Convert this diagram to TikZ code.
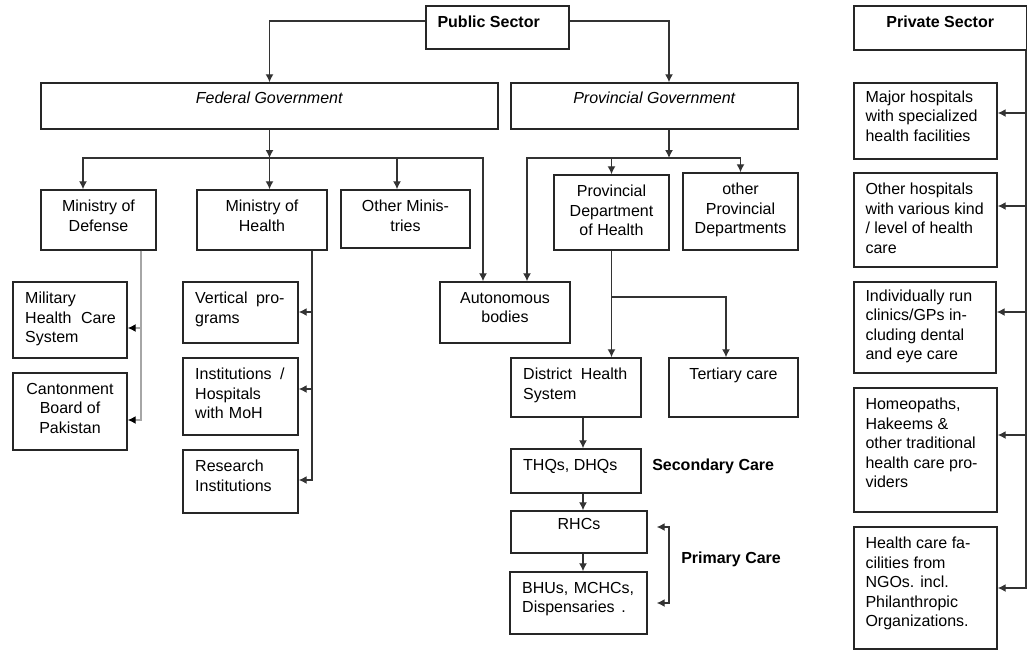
\documentclass[tikz,border=0pt]{standalone}
\usepackage{fontspec}
\setmainfont{Liberation Sans}
\usetikzlibrary{
  arrows.meta, % Latex arrow tips
  calc,        % coordinate offsets
  fit          % boxes from two corners
}
\tikzset{
  box/.style={
    draw=black!85,
    line width=1.1pt,
    inner sep=0pt
  },
  link/.style={
    -{Latex[length=6pt,width=6pt]},
    line width=1pt,
    draw=black!80
  },
  glink/.style={
    -{Latex[length=6pt,width=6pt,color=black]},
    line width=1pt,
    draw=black!35
  },
  ctxt/.style={
    anchor=north,
    align=center,
    inner xsep=0pt,
    inner ysep=8pt,
    font=\fontsize{12}{14.6}\selectfont
  },
  ltxt/.style={
    anchor=north west,
    align=left,
    inner xsep=9.5pt,
    inner ysep=8pt,
    font=\fontsize{12}{14.6}\selectfont
  },
  side/.style={
    anchor=west,
    inner sep=0pt,
    font=\fontsize{12}{14.6}\selectfont\bfseries
  }
}

\begin{document}
\begin{tikzpicture}[x=0.75pt, y=-0.75pt]
  \useasboundingbox (0,0) rectangle (1028,650);

  % ======================= top level =======================
  \node[box, fit={(426,6) (569,49)},
        label={[ltxt, inner xsep=9pt]north west:{\textbf{Public Sector}}}] (pub) {};
  \node[box, fit={(854,6) (1026.5,50)},
        label={[ctxt]north:{\textbf{Private Sector}}}] (priv) {};

  \node[box, fit={(41,83) (498,129)},
        label={[ctxt, inner ysep=7pt]north:{\textit{Federal Government}}}] (fed) {};
  \node[box, fit={(511,83) (798,129)},
        label={[ctxt, inner ysep=7pt]north:{\textit{Provincial Government}}}] (prov) {};

  % ======================= federal side =======================
  \node[box, fit={(41,190) (156,250)},
        label={[ctxt]north:{Ministry of\\Defense}}] (mod) {};
  \node[box, fit={(197,190) (327,250)},
        label={[ctxt]north:{Ministry of\\Health}}] (moh) {};
  \node[box, fit={(341,190) (470,248)},
        label={[ctxt]north:{Other Minis-\\tries}}] (othmin) {};

  \node[box, fit={(13,282) (127,358)},
        label={[ltxt, text width=68pt]north west:{Military\\Health\hfill Care\\System}}] (mil) {};
  \node[box, fit={(13,373) (127,450)},
        label={[ctxt]north:{Cantonment\\Board of\\Pakistan}}] (cant) {};

  \node[box, fit={(183,282) (298,343)},
        label={[ltxt, text width=67pt]north west:{Vertical\hfill pro-\\grams}}] (vert) {};
  \node[box, fit={(183,358) (298,435)},
        label={[ltxt, text width=67pt]north west:{Institutions\hfill /\\Hospitals\\with MoH}}] (inst) {};
  \node[box, fit={(183,450) (298,513)},
        label={[ltxt]north west:{Research\\Institutions}}] (res) {};

  \node[box, fit={(440,282) (570,343)},
        label={[ctxt]north:{Autonomous\\bodies}}] (auto) {};

  % ======================= provincial side =======================
  \node[box, fit={(554,175) (669,250)},
        label={[ctxt]north:{Provincial\\Department\\of Health}}] (pdh) {};
  \node[box, fit={(683,173) (798,250)},
        label={[ctxt]north:{other\\Provincial\\Departments}}] (opd) {};

  \node[box, fit={(511,358) (641,417)},
        label={[ltxt, text width=78pt]north west:{District\hfill Health\\System}}] (dhs) {};
  \node[box, fit={(669,358) (798,417)},
        label={[ctxt]north:{Tertiary care}}] (tert) {};

  \node[box, fit={(511,449) (641,493)},
        label={[ltxt]north west:{THQs, DHQs}}] (thq) {};
  \node[box, fit={(511,511) (647,553)},
        label={[ctxt, inner ysep=6pt]north:{RHCs}}] (rhc) {};
  \node[box, fit={(510,572) (647,634)},
        label={[ltxt, text width=84pt]north west:{BHUs,\hfill MCHCs,\\Dispensaries\hspace{5pt}.}}] (bhu) {};

  \node[side] (sec) at (652,466) {Secondary Care};
  \node[side] (prim) at (681,559) {Primary Care};

  % ======================= private side =======================
  \node[box, fit={(854,83) (997,159)},
        label={[ltxt, inner xsep=9pt, inner ysep=6pt]north west:{Major hospitals\\with specialized\\health facilities}}] (major) {};
  \node[box, fit={(854,173) (997,267)},
        label={[ltxt, inner xsep=9pt]north west:{Other hospitals\\with various kind\\/ level of health\\care}}] (other) {};
  \node[box, fit={(854,282) (996,373)},
        label={[ltxt, inner xsep=9pt, inner ysep=6pt]north west:{Individually run\\clinics/GPs in-\\cluding dental\\and eye care}}] (indiv) {};
  \node[box, fit={(854,388) (997,512)},
        label={[ltxt, inner xsep=9pt]north west:{Homeopaths,\\Hakeems \&\\other traditional\\health care pro-\\viders}}] (homeo) {};
  \node[box, fit={(854,527) (997,649)},
        label={[ltxt, inner xsep=9pt]north west:{Health care fa-\\cilities from\\NGOs. incl.\\Philanthropic\\Organizations.}}] (ngo) {};

  % ======================= connectors =======================
  \coordinate (fbus) at (269.5,158);
  \coordinate (pbus) at (669,158);
  \coordinate (brk) at (669,565);

  % public sector to the two governments
  \draw[link] (pub.west |- 0,21) -| (fed.north);
  \draw[link] (pub.east |- 0,21) -| (prov.north -| 669,0);

  % federal bus
  \draw[link] (fed.south) -- (fbus);
  \draw[link] (fbus) -| (mod.north -| 83,0);
  \draw[link] (fbus) -- (moh.north -| fbus);
  \draw[link] (fbus) -| (othmin.north -| 397,0);
  \draw[link] (fbus) -| (auto.north -| 483,0);

  % provincial bus
  \draw[link] (prov.south -| pbus) -- (pbus);
  \draw[link] (pbus) -| (auto.north -| 527,0);
  \draw[link] (pbus) -| (pdh.north);
  \draw[link] (pbus) -| (opd.north);

  % ministry of defense
  \draw[glink] (mod.south -| 141,0) |- (mil.east |- 0,328);
  \draw[glink] (mod.south -| 141,0) |- (cant.east |- 0,420);

  % ministry of health
  \draw[link] (moh.south -| 312,0) |- (vert.east |- 0,312);
  \draw[link] (moh.south -| 312,0) |- (inst.east |- 0,389);
  \draw[link] (moh.south -| 312,0) |- (res.east |- 0,480);

  % provincial health chain
  \draw[link] (pdh.south) -- (dhs.north -| pdh.south);
  \draw[link] (pdh.south |- 0,297) -| (tert.north -| 726,0);
  \draw[link] (dhs.south -| 583,0) -- (thq.north -| 583,0);
  \draw[link] (thq.south -| 583,0) -- (rhc.north -| 583,0);
  \draw[link] (rhc.south -| 583,0) -- (bhu.north -| 583,0);

  % primary care bracket
  \draw[link] (brk) |- ($(rhc.east |- 0,527)+(9,0)$);
  \draw[link] (brk) |- ($(bhu.east |- 0,603)+(9,0)$);

  % private sector
  \draw[link] (priv.south -| 1026,0) |- (major.east |- 0,113);
  \draw[link] (priv.south -| 1026,0) |- (other.east |- 0,206);
  \draw[link] (priv.south -| 1026,0) |- (indiv.east |- 0,312);
  \draw[link] (priv.south -| 1026,0) |- (homeo.east |- 0,435);
  \draw[link] (priv.south -| 1026,0) |- (ngo.east);
\end{tikzpicture}
\end{document}
